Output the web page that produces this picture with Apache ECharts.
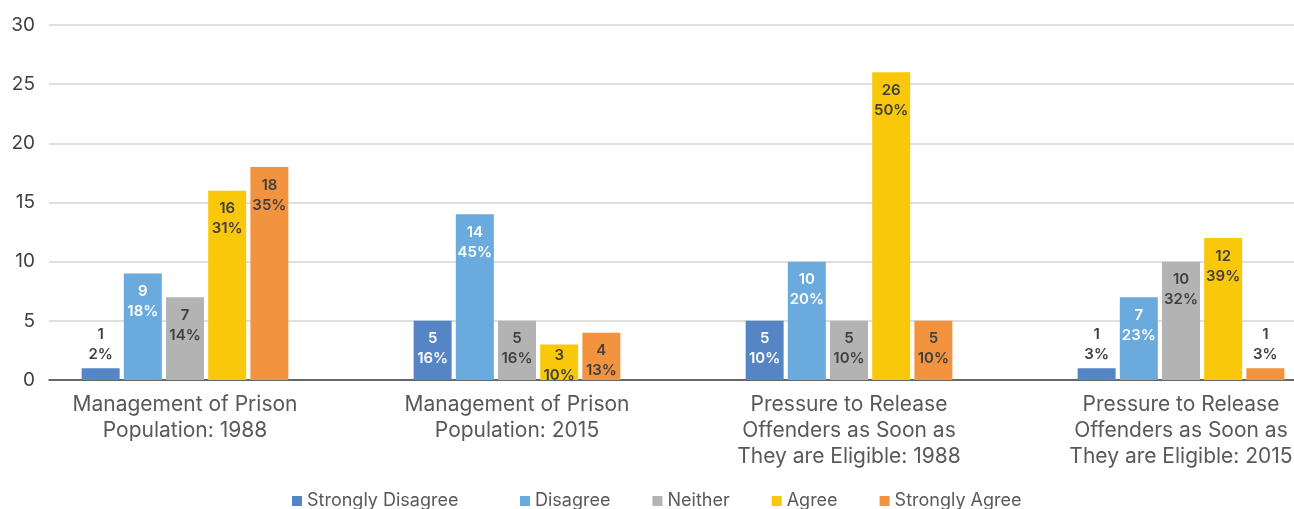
<!DOCTYPE html>
<html>
<head>
<meta charset="utf-8">
<script src="https://cdn.jsdelivr.net/npm/echarts@6/dist/echarts.min.js"></script>
<style>
  html, body { margin: 0; padding: 0; background: #fff; }
  #chart { width: 1294px; height: 509px; }
</style>
</head>
<body>
<div id="chart"></div>
<script>
// Survey responses by statement and year
const categories = [
  'Management of Prison\nPopulation: 1988',
  'Management of Prison\nPopulation: 2015',
  'Pressure to Release\nOffenders as Soon as\nThey are Eligible: 1988',
  'Pressure to Release\nOffenders as Soon as\nThey are Eligible: 2015'
];
const seriesNames = ['Strongly Disagree', 'Disagree', 'Neither', 'Agree', 'Strongly Agree'];

// Response counts per category
const stronglyDisagree = [1, 5, 5, 1];
const disagree = [9, 14, 10, 7];
const neither = [7, 5, 5, 10];
const agree = [16, 3, 26, 12];
const stronglyAgree = [18, 4, 5, 1];

// Share of responses within each category (%)
const stronglyDisagreePct = [2, 16, 10, 3];
const disagreePct = [18, 45, 20, 23];
const neitherPct = [14, 16, 10, 32];
const agreePct = [31, 10, 50, 39];
const stronglyAgreePct = [35, 13, 10, 3];

const yTicks = { min: 0, max: 30, interval: 5 };

const counts = [stronglyDisagree, disagree, neither, agree, stronglyAgree];
const pcts = [stronglyDisagreePct, disagreePct, neitherPct, agreePct, stronglyAgreePct];
const colors = ['#5585C5', '#6AAADD', '#B3B3B3', '#FAC80A', '#F2933F'];
const insideText = ['#ffffff', '#ffffff', '#404040', '#404040', '#404040'];

const FONT = 'Inter';

function makeSeries(i) {
  return {
    name: seriesNames[i],
    type: 'bar',
    xAxisIndex: 1,
    yAxisIndex: 1,
    barWidth: 38,
    barGap: '11%',
    itemStyle: { color: colors[i] },
    emphasis: { disabled: true },
    data: counts[i].map(function (v, j) {
      const small = v <= 1;
      return {
        value: v,
        label: {
          show: true,
          position: small ? 'top' : 'insideTop',
          distance: small ? 4 : (v <= 3 ? 1 : 8),
          formatter: v + '\n' + pcts[i][j] + '%',
          color: small ? '#404040' : insideText[i],
          fontFamily: FONT,
          fontSize: 15,
          fontWeight: 600,
          lineHeight: 20
        }
      };
    })
  };
}

const legendBase = {
  top: 487,
  icon: 'rect',
  itemWidth: 10,
  itemHeight: 10,
  itemGap: 42,
  textStyle: { fontFamily: FONT, fontSize: 18, color: '#595959' }
};

const chart = echarts.init(document.getElementById('chart'), null, { renderer: 'canvas' });
chart.setOption({
  animation: false,
  textStyle: { fontFamily: FONT },
  legend: [
    Object.assign({}, legendBase, { left: 287, data: seriesNames.slice(0, 1) }),
    Object.assign({}, legendBase, { left: 515, data: seriesNames.slice(1) })
  ],
  grid: [
    // frame with gridlines and value labels
    { left: 49, right: 0, top: 25, bottom: 129, outerBoundsMode: 'none' },
    // bar area, a little wider than the frame so groups sit evenly
    { left: 19, width: 1328, top: 25, bottom: 129, outerBoundsMode: 'none', containLabel: false }
  ],
  xAxis: [
    {
      gridIndex: 0,
      type: 'category',
      data: categories,
      axisLine: { show: true, lineStyle: { color: '#404040', width: 1.5 } },
      axisTick: { show: false },
      axisLabel: { show: false },
      splitLine: { show: false }
    },
    {
      gridIndex: 1,
      type: 'category',
      data: categories,
      axisLine: { show: false },
      axisTick: { show: false },
      axisLabel: {
        fontFamily: FONT,
        fontSize: 21,
        lineHeight: 26,
        color: '#595959',
        margin: 12,
        interval: 0
      }
    }
  ],
  yAxis: [
    {
      gridIndex: 0,
      type: 'value',
      min: yTicks.min,
      max: yTicks.max,
      interval: yTicks.interval,
      axisLine: { show: false },
      axisTick: { show: false },
      axisLabel: { fontFamily: FONT, fontSize: 19, color: '#404040', margin: 14 },
      splitLine: { lineStyle: { color: '#D4D4D4', width: 1.5 } }
    },
    {
      gridIndex: 1,
      type: 'value',
      min: yTicks.min,
      max: yTicks.max,
      interval: yTicks.interval,
      show: false,
      splitLine: { show: false }
    }
  ],
  series: [0, 1, 2, 3, 4].map(makeSeries)
});
</script>
</body>
</html>
